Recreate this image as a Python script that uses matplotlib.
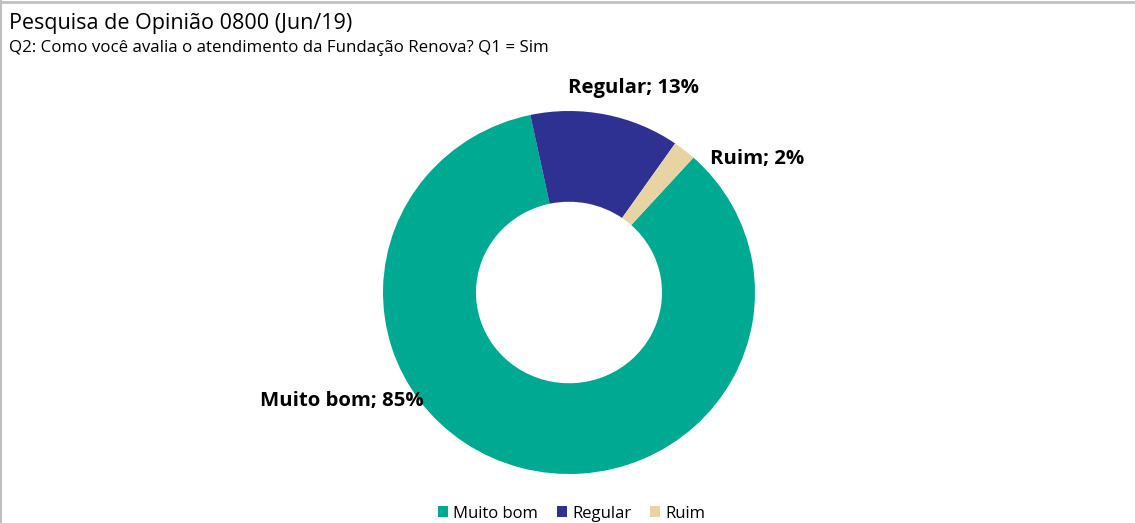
import matplotlib
matplotlib.use("Agg")
import matplotlib.pyplot as plt
from matplotlib.patches import Patch

plt.rcParams['font.family'] = ['Open Sans', 'DejaVu Sans']

categorias = ["Muito bom", "Regular", "Ruim"]
valores = [85, 13, 2]
cores = ["#00A991", "#2E3192", "#E8D3A2"]

titulo = "Pesquisa de Opinião 0800 (Jun/19)"
subtitulo = "Q2: Como você avalia o atendimento da Fundação Renova? Q1 = Sim"

W, H = 1135, 523
fig = plt.figure(figsize=(W / 100, H / 100), dpi=100)

# borda cinza (topo e esquerda)
fig.add_artist(plt.Line2D([0, 1], [1 - 1.5 / H, 1 - 1.5 / H], color="#BFBFBF", lw=2))
fig.add_artist(plt.Line2D([1 / W, 1 / W], [0, 1], color="#BFBFBF", lw=1.5))

fig.text(9 / W, 1 - 23 / H, titulo, fontsize=15.5, va="center", ha="left")
fig.text(9 / W, 1 - 48 / H, subtitulo, fontsize=12.2, va="center", ha="left")

# donut levemente achatado, como no original
cx, cy, rx, ry = 569, 292.5, 186, 181.5
ax = fig.add_axes([(cx - rx) / W, (H - cy - ry) / H, 2 * rx / W, 2 * ry / H])
ax.pie(valores, colors=cores, startangle=48, counterclock=False,
       radius=1, wedgeprops=dict(width=0.5, linewidth=0))
ax.set_xlim(-1, 1)
ax.set_ylim(-1, 1)
ax.set_aspect("auto")
ax.axis("off")

# rótulos
pos = [(-227, 108, "center"), (64, -204, "center"), (141, -133, "left")]
for (dx, dy, ha), c, v in zip(pos, categorias, valores):
    ax.text(dx / rx, -dy / ry, f"{c}; {v}%", fontsize=14.7, fontweight="bold",
            ha=ha, va="center", clip_on=False)

handles = [Patch(facecolor=c, edgecolor="none") for c in cores]
fig.legend(handles, categorias, loc="center", bbox_to_anchor=(571.5 / W, 1 - 513.5 / H),
           ncol=3, frameon=False, fontsize=12, handlelength=0.6, handleheight=0.6,
           handletextpad=0.3, columnspacing=1.15)

fig.savefig("out.png", dpi=100, facecolor="white")
